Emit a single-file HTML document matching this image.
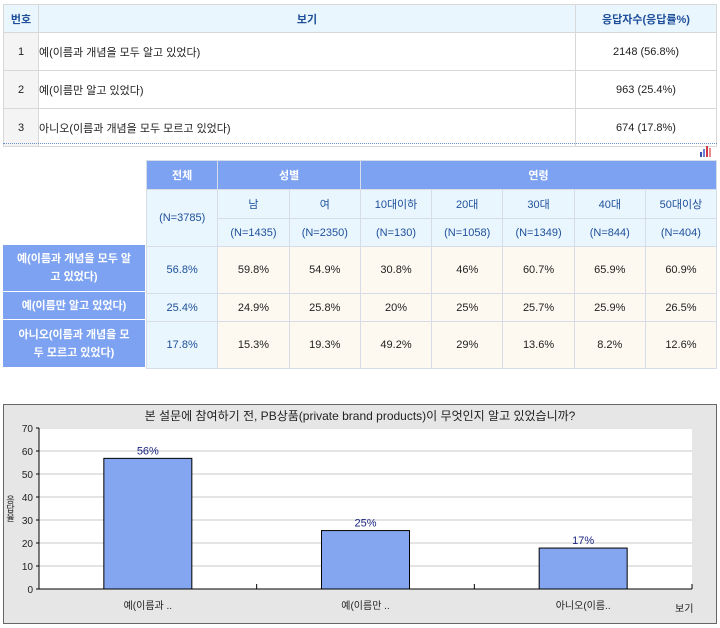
<!DOCTYPE html>
<html><head><meta charset="utf-8"><style>
body{margin:0;width:720px;height:628px;background:#fff;font-family:"Liberation Sans","Noto Sans CJK KR",sans-serif;font-size:11px;color:#222;position:relative;overflow:hidden}
table{border-collapse:collapse;position:absolute}
td{padding:0}
#t1{left:3px;top:4px;width:714px}
#t1 td{border:1px solid #d8d8d8;height:37px}
#t1 tr.h td{background:#eaf6fd;color:#1d4f9a;font-weight:bold;text-align:center;height:27px}
#t1 .n{background:#f4f4f4;text-align:center;width:34px}
#t1 .c{text-align:center;width:140px}
#t2{left:146px;top:160px;width:571px}
#t2 td{border:1px solid #d6dde8;text-align:center;width:71px}
.hb{background:#7da2f1;color:#fff;font-weight:bold;height:28px}
.hl{background:#eaf6fd;color:#1d4f9a}
.tot{background:#eaf6fd;color:#1d4f9a}
.v{background:#fdf9f0}
.rh{position:absolute;left:3px;width:142px;background:#7da2f1;color:#fff;font-weight:bold;text-align:center;display:flex;align-items:center;justify-content:center;line-height:18px;border-bottom:1px solid #fff}
</style></head><body>
<table id="t1">
<tr class="h"><td>번호</td><td>보기</td><td>응답자수(응답률%)</td></tr>
<tr><td class="n">1</td><td>예(이름과 개념을 모두 알고 있었다)</td><td class="c">2148 (56.8%)</td></tr>
<tr><td class="n">2</td><td>예(이름만 알고 있었다)</td><td class="c">963 (25.4%)</td></tr>
<tr><td class="n">3</td><td>아니오(이름과 개념을 모두 모르고 있었다)</td><td class="c">674 (17.8%)</td></tr>
</table>
<div style="position:absolute;left:3px;top:143px;width:714px;border-top:1px dotted #6b8fc8"></div>
<div style="position:absolute;left:700px;top:146px;width:12px;height:11px;display:flex;align-items:flex-end;gap:1px"><i style="width:2px;height:5px;background:#3a4fb0"></i><i style="width:2px;height:8px;background:#6b7fd8"></i><i style="width:2px;height:11px;background:#d23a4a"></i><i style="width:2px;height:9px;background:#e88"></i></div>
<table id="t2">
<tr><td class="hb">전체</td><td class="hb" colspan="2">성별</td><td class="hb" colspan="5">연령</td></tr>
<tr><td class="hl" rowspan="2">(N=3785)</td><td class="hl" style="height:28px">남</td><td class="hl">여</td><td class="hl">10대이하</td><td class="hl">20대</td><td class="hl">30대</td><td class="hl">40대</td><td class="hl">50대이상</td></tr>
<tr><td class="hl" style="height:27px">(N=1435)</td><td class="hl">(N=2350)</td><td class="hl">(N=130)</td><td class="hl">(N=1058)</td><td class="hl">(N=1349)</td><td class="hl">(N=844)</td><td class="hl">(N=404)</td></tr>
<tr><td class="tot" style="height:46px">56.8%</td><td class="v">59.8%</td><td class="v">54.9%</td><td class="v">30.8%</td><td class="v">46%</td><td class="v">60.7%</td><td class="v">65.9%</td><td class="v">60.9%</td></tr>
<tr><td class="tot" style="height:27px">25.4%</td><td class="v">24.9%</td><td class="v">25.8%</td><td class="v">20%</td><td class="v">25%</td><td class="v">25.7%</td><td class="v">25.9%</td><td class="v">26.5%</td></tr>
<tr><td class="tot" style="height:46px">17.8%</td><td class="v">15.3%</td><td class="v">19.3%</td><td class="v">49.2%</td><td class="v">29%</td><td class="v">13.6%</td><td class="v">8.2%</td><td class="v">12.6%</td></tr>
</table>
<div class="rh" style="top:245px;height:46px">예(이름과 개념을 모두 알<br>고 있었다)</div>
<div class="rh" style="top:292px;height:27px">예(이름만 알고 있었다)</div>
<div class="rh" style="top:320px;height:47px">아니오(이름과 개념을 모<br>두 모르고 있었다)</div>

<div style="position:absolute;left:3px;top:404px;width:712px;height:218px;background:#e6e6e6;border:1px solid #666"></div>
<svg id="chart" width="720" height="628" style="position:absolute;left:0;top:0;font-family:'Liberation Sans','Noto Sans CJK KR',sans-serif"></svg>
<script>
const categories=["예(이름과 ..","예(이름만 ..","아니오(이름.."];
const values=[56.8,25.4,17.8];
const yTicks=[0,10,20,30,40,50,60,70];
const svg=document.getElementById('chart');
const NS='http://www.w3.org/2000/svg';
const L=39,R=692,T=428,B=589,yMax=70;
const y=v=>B-(v/yMax)*(B-T);
const bw=(R-L)/categories.length;
const x=i=>L+bw*i+bw/2;
function mk(t,a,txt){const e=document.createElementNS(NS,t);for(const k in a)e.setAttribute(k,a[k]);if(txt!=null)e.textContent=txt;svg.appendChild(e);return e;}
let e;
e=mk('rect',{x:L,y:T,width:R-L,height:B-T,fill:'#fff'});


e=mk('text',{x:360,y:420,'text-anchor':'middle','font-size':12,fill:'#222'},'본 설문에 참여하기 전, PB상품(private brand products)이 무엇인지 알고 있었습니까?');


yTicks.forEach(t=>{
 if(t>0){e=mk('line',{x1:L,x2:R,y1:y(t),y2:y(t),stroke:'#e4e4e4','stroke-width':2});
 
 }
 e=mk('text',{x:L-6,y:y(t)+4,'text-anchor':'end','font-size':10,fill:'#222'},String(t));
 
 
 mk('line',{x1:L-3,x2:L,y1:y(t),y2:y(t),stroke:'#000'});
});
mk('line',{x1:L,x2:L,y1:T,y2:B,stroke:'#000'});
mk('line',{x1:L,x2:R,y1:B,y2:B,stroke:'#000'});
values.forEach((v,i)=>{
 e=mk('rect',{x:x(i)-44,y:y(v),width:88,height:B-y(v),fill:'#84a6f0',stroke:'#000','stroke-width':1});
 
 
 e=mk('text',{x:x(i),y:y(v)-4,'text-anchor':'middle','font-size':11,fill:'#1a237e'},Math.floor(v)+'%');
 
 
 e=mk('text',{x:x(i),y:609,'text-anchor':'middle','font-size':10,fill:'#222'},categories[i]);
 
 
 mk('line',{x1:L+bw*(i+1),x2:L+bw*(i+1),y1:B,y2:B-5,stroke:'#000'});
});
e=mk('text',{x:675,y:612,'font-size':10,fill:'#222'},'보기');


e=mk('text',{x:10,y:495,'font-size':9,fill:'#222','writing-mode':'tb'},'응답율');


</script>
</body></html>
